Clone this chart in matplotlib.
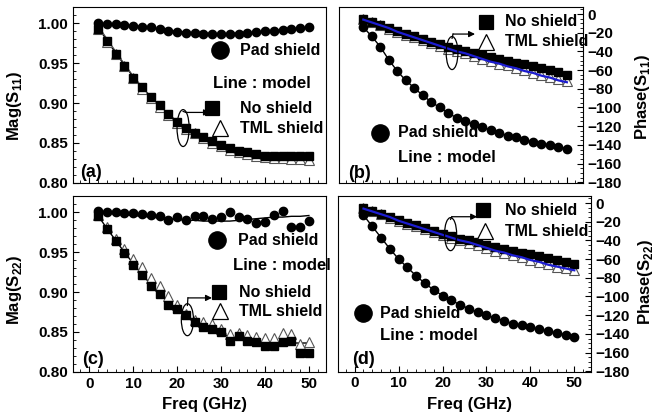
import matplotlib
matplotlib.use("Agg")
import matplotlib.pyplot as plt
from matplotlib.patches import Ellipse
from matplotlib.ticker import MultipleLocator, FormatStrFormatter

plt.rcParams['font.family'] = ['Liberation Sans', 'DejaVu Sans']
plt.rcParams['font.weight'] = 'bold'
plt.rcParams['mathtext.fontset'] = 'custom'
plt.rcParams['mathtext.rm'] = 'Liberation Sans:bold'
plt.rcParams['mathtext.bf'] = 'Liberation Sans:bold'

freq = [2, 4, 6, 8, 10, 12, 14, 16, 18, 20, 22, 24, 26, 28, 30,
        32, 34, 36, 38, 40, 42, 44, 46, 48, 50]

# (a) Mag(S11)
mag11_pad = [1.000, 0.999, 0.999, 0.998, 0.997, 0.996, 0.995, 0.993, 0.991, 0.989, 0.988, 0.988, 0.987,
             0.987, 0.987, 0.987, 0.987, 0.988, 0.989, 0.990, 0.991, 0.992, 0.993, 0.994, 0.995]
mag11_no = [0.993, 0.978, 0.962, 0.947, 0.932, 0.920, 0.907, 0.897, 0.886, 0.876, 0.869, 0.863, 0.857,
            0.852, 0.847, 0.843, 0.840, 0.838, 0.836, 0.834, 0.834, 0.834, 0.833, 0.833, 0.833]
mag11_tml = [0.993, 0.977, 0.961, 0.946, 0.931, 0.918, 0.906, 0.895, 0.885, 0.875, 0.868, 0.862, 0.856,
             0.850, 0.846, 0.841, 0.838, 0.836, 0.834, 0.832, 0.831, 0.831, 0.830, 0.830, 0.829]
mag11_pad_model = [1.000, 0.9995, 0.999, 0.998, 0.997, 0.996, 0.994, 0.993, 0.991, 0.990, 0.989, 0.988, 0.988,
                   0.987, 0.987, 0.987, 0.988, 0.988, 0.989, 0.990, 0.991, 0.992, 0.993, 0.994, 0.995]
mag11_no_model = [0.995, 0.979, 0.963, 0.948, 0.933, 0.920, 0.908, 0.897, 0.886, 0.877, 0.869, 0.862, 0.856,
                  0.851, 0.847, 0.843, 0.840, 0.838, 0.836, 0.835, 0.834, 0.833, 0.833, 0.832, 0.832]
mag11_tml_model = [0.997, 0.981, 0.965, 0.949, 0.934, 0.920, 0.907, 0.896, 0.885, 0.875, 0.867, 0.860, 0.854,
                   0.849, 0.845, 0.841, 0.838, 0.836, 0.834, 0.833, 0.832, 0.831, 0.830, 0.830, 0.829]

# (b) Phase(S11)
ph11_pad = [-14, -24, -35, -49, -61, -71, -79, -87, -94, -100, -106, -111, -115,
            -118, -121, -124, -127, -130, -132, -135, -137, -139, -140, -142, -144]
ph11_no = [-5, -9, -12, -15, -18, -21, -24, -27, -30, -32, -35, -37, -40,
           -42, -44, -46, -48, -50, -52, -54, -56, -58, -60, -62, -65]
ph11_tml = [-5, -9, -12, -16, -19, -22, -25, -28, -31, -34, -37, -40, -42,
            -45, -48, -50, -53, -55, -58, -60, -63, -65, -67, -70, -72]
ph11_no_model = [-5, -9, -12, -15, -18, -21, -24, -27, -30, -32, -35, -37, -40,
                 -42, -44, -46, -48, -50, -52, -54, -56, -58, -60, -62, -64]
ph11_tml_model = [-6, -9, -12, -15, -19, -22, -25, -28, -31, -34, -37, -40, -42,
                  -45, -48, -51, -53, -56, -58, -61, -63, -66, -68, -71, -73]

# (c) Mag(S22)
mag22_pad = [1.002, 1.000, 1.000, 0.999, 0.999, 0.998, 0.997, 0.995, 0.991, 0.994, 0.990, 0.995, 0.996,
             0.992, 0.994, 1.001, 0.994, 0.992, 0.987, 0.988, 0.997, 1.002, 0.981, 0.981, 0.989]
mag22_no = [0.995, 0.979, 0.964, 0.949, 0.934, 0.921, 0.908, 0.897, 0.884, 0.879, 0.871, 0.863, 0.856,
            0.854, 0.850, 0.839, 0.845, 0.839, 0.837, 0.832, 0.832, 0.837, 0.839, 0.823, 0.824]
mag22_tml = [0.997, 0.981, 0.967, 0.954, 0.942, 0.931, 0.918, 0.907, 0.895, 0.884, 0.873, 0.865, 0.862,
             0.860, 0.854, 0.847, 0.848, 0.846, 0.844, 0.842, 0.842, 0.849, 0.847, 0.835, 0.837]
mag22_pad_model = [1.000, 0.999, 0.998, 0.997, 0.996, 0.995, 0.994, 0.993, 0.992, 0.991, 0.990, 0.990, 0.989,
                   0.989, 0.989, 0.989, 0.990, 0.991, 0.992, 0.993, 0.994, 0.994, 0.995, 0.995, 0.996]
mag22_model = [0.996, 0.980, 0.965, 0.950, 0.936, 0.922, 0.910, 0.898, 0.887, 0.878, 0.869, 0.862, 0.856,
               0.851, 0.847, 0.844, 0.841, 0.839, 0.838, 0.837, 0.836, 0.836, 0.836, 0.836, 0.836]

# (d) Phase(S22)
ph22_pad = [-13, -25, -37, -49, -60, -69, -78, -86, -93, -99, -104, -109, -113,
            -117, -120, -123, -126, -129, -131, -133, -135, -137, -139, -141, -143]
ph22_no = [-5, -9, -12, -15, -18, -21, -24, -27, -30, -33, -35, -38, -40,
           -42, -45, -47, -49, -51, -53, -55, -57, -59, -61, -63, -65]
ph22_tml = [-5, -9, -12, -16, -19, -22, -25, -28, -31, -34, -37, -40, -43,
            -45, -48, -51, -53, -56, -58, -61, -63, -65, -68, -70, -72]
ph22_no_model = [-5, -9, -12, -15, -18, -21, -24, -27, -30, -33, -35, -38, -40,
                 -42, -45, -47, -49, -51, -53, -55, -57, -59, -61, -63, -65]
ph22_tml_model = [-6, -9, -12, -15, -19, -22, -25, -28, -31, -34, -37, -40, -42,
                  -45, -48, -51, -53, -56, -58, -61, -63, -66, -68, -70, -72]

W, H = 656, 416
fig = plt.figure(figsize=(W / 100, H / 100), dpi=100)


def px_axes(left, top, right, bottom):
    return fig.add_axes([left / W, 1 - bottom / H, (right - left) / W, (bottom - top) / H])


ax_a = px_axes(72.5, 7, 325.6, 182.7)
ax_b = px_axes(338.7, 7, 583, 182.7)
ax_c = px_axes(72.5, 196, 325.6, 371.7)
ax_d = px_axes(338, 196, 591, 371.7)

FS = 11
LFS = 11.5
ms = 5.5


def data_points(ax, pad, no, tml):
    ax.plot(freq, tml, ls='none', marker='^', ms=ms + 1, mfc='white', mec='#555555', mew=0.8, zorder=3)
    ax.plot(freq, no, ls='none', marker='s', ms=ms, color='black', zorder=4)
    ax.plot(freq, pad, ls='none', marker='o', ms=ms + 0.5, color='black', zorder=4)


def style_axis(ax, side):
    ax.set_xlim(-3.8, 53.8)
    ax.xaxis.set_major_locator(MultipleLocator(10))
    ax.xaxis.set_minor_locator(MultipleLocator(2))
    ax.tick_params(which='both', direction='in', top=False, labelsize=FS)
    ax.tick_params(which='major', length=4, width=0.8)
    ax.tick_params(which='minor', length=2, width=0.6)
    if side == 'left':
        ax.tick_params(which='both', left=True, right=False)
    else:
        ax.tick_params(which='both', left=False, right=True, labelleft=False, labelright=True, pad=3)
    for lab in ax.get_xticklabels() + ax.get_yticklabels():
        lab.set_fontweight('bold')


def legend_block(ax, items, line_pos):
    for marker, mx, my, tx, label, size in items:
        ax.plot([mx], [my], transform=ax.transAxes, marker=marker, ms=size,
                mfc='white' if marker == '^' else 'black', mec='black', mew=0.9,
                ls='none', clip_on=False, zorder=5)
        ax.text(tx, my, label, transform=ax.transAxes, fontsize=LFS, fontweight='bold',
                va='center', ha='left')
    ax.text(line_pos[0], line_pos[1], 'Line : model', transform=ax.transAxes,
            fontsize=12, fontweight='bold', va='center', ha='left')


def bracket(ax, cx, cy, h, x0, x1, ya):
    ax.add_patch(Ellipse((cx, cy), 0.048, h, transform=ax.transAxes, fill=False,
                         ec='black', lw=0.9, zorder=5))
    ax.annotate('', xy=(x1, ya), xytext=(x0, ya), xycoords='axes fraction',
                arrowprops=dict(arrowstyle='-|>', color='black', lw=0.9,
                                mutation_scale=9, shrinkA=0, shrinkB=0))
    ax.plot([cx, x0], [cy + h / 2 - 0.01, ya], transform=ax.transAxes, color='black', lw=0.9)


# (a)
ax_a.plot(freq, mag11_pad_model, color='black', lw=1)
ax_a.plot(freq, mag11_no_model, color='black', lw=1)
ax_a.plot(freq, mag11_tml_model, color='#444444', lw=0.8)
data_points(ax_a, mag11_pad, mag11_no, mag11_tml)
ax_a.set_ylim(0.80, 1.0205)
ax_a.yaxis.set_major_locator(MultipleLocator(0.05))
ax_a.yaxis.set_minor_locator(MultipleLocator(0.01))
ax_a.yaxis.set_major_formatter(FormatStrFormatter('%.2f'))
style_axis(ax_a, 'left')
ax_a.tick_params(labelbottom=False)
ax_a.set_ylabel(r'Mag(S$_{11}$)', fontsize=12, fontweight='bold')
ax_a.yaxis.set_label_coords(-0.19, 0.44)
legend_block(ax_a, [('o', 0.583, 0.755, 0.662, 'Pad shield', 12.5),
                    ('s', 0.551, 0.425, 0.662, 'No shield', 9.5),
                    ('^', 0.583, 0.311, 0.662, 'TML shield', 11)], (0.555, 0.567))
bracket(ax_a, 0.437, 0.311, 0.21, 0.448, 0.543, 0.4)
ax_a.text(0.03, 0.06, '(a)', transform=ax_a.transAxes, fontsize=FS + 2, fontweight='bold', va='center')

# (b)
ax_b.plot(freq, ph11_pad, color='black', lw=1)
ax_b.plot(freq, ph11_no_model, color='black', lw=1)
data_points(ax_b, ph11_pad, ph11_no, ph11_tml)
ax_b.plot(freq, ph11_tml_model, color='#1c1cd0', lw=1.6, zorder=4.5)
ax_b.set_ylim(-180.5, 7.5)
ax_b.yaxis.set_major_locator(MultipleLocator(20))
ax_b.yaxis.set_minor_locator(MultipleLocator(5))
style_axis(ax_b, 'right')
ax_b.tick_params(labelbottom=False)
ax_b.yaxis.set_label_position('right')
ax_b.set_ylabel(r'Phase(S$_{11}$)', fontsize=12, fontweight='bold', rotation=90)
ax_b.yaxis.set_label_coords(1.205, 0.49)
legend_block(ax_b, [('s', 0.603, 0.915, 0.681, 'No shield', 9.5),
                    ('^', 0.603, 0.801, 0.681, 'TML shield', 11),
                    ('o', 0.169, 0.283, 0.243, 'Pad shield', 12.5)], (0.243, 0.146))
bracket(ax_b, 0.464, 0.738, 0.188, 0.468, 0.558, 0.846)
ax_b.text(0.038, 0.05, '(b)', transform=ax_b.transAxes, fontsize=FS + 2, fontweight='bold', va='center')

# (c)
ax_c.plot(freq, mag22_pad_model, color='black', lw=1)
ax_c.plot(freq, mag22_model, color='black', lw=1)
data_points(ax_c, mag22_pad, mag22_no, mag22_tml)
ax_c.set_ylim(0.80, 1.0205)
ax_c.yaxis.set_major_locator(MultipleLocator(0.05))
ax_c.yaxis.set_minor_locator(MultipleLocator(0.01))
ax_c.yaxis.set_major_formatter(FormatStrFormatter('%.2f'))
style_axis(ax_c, 'left')
ax_c.set_ylabel(r'Mag(S$_{22}$)', fontsize=12, fontweight='bold')
ax_c.yaxis.set_label_coords(-0.19, 0.465)
ax_c.set_xlabel('Freq (GHz)', fontsize=12, fontweight='bold')
ax_c.xaxis.set_label_coords(0.52, -0.145)
legend_block(ax_c, [('o', 0.570, 0.748, 0.654, 'Pad shield', 12.5),
                    ('s', 0.580, 0.452, 0.658, 'No shield', 9.5),
                    ('^', 0.583, 0.344, 0.658, 'TML shield', 11)], (0.634, 0.602))
bracket(ax_c, 0.454, 0.296, 0.182, 0.456, 0.551, 0.42)
ax_c.text(0.04, 0.07, '(c)', transform=ax_c.transAxes, fontsize=FS + 2, fontweight='bold', va='center')

# (d)
ax_d.plot(freq, ph22_pad, color='black', lw=1)
ax_d.plot(freq, ph22_no_model, color='black', lw=1)
data_points(ax_d, ph22_pad, ph22_no, ph22_tml)
ax_d.plot(freq, ph22_tml_model, color='#1c1cd0', lw=1.6, zorder=4.5)
ax_d.set_ylim(-180.5, 7.5)
ax_d.yaxis.set_major_locator(MultipleLocator(20))
ax_d.yaxis.set_minor_locator(MultipleLocator(5))
style_axis(ax_d, 'right')
ax_d.yaxis.set_label_position('right')
ax_d.set_ylabel(r'Phase(S$_{22}$)', fontsize=12, fontweight='bold', rotation=90)
ax_d.yaxis.set_label_coords(1.178, 0.51)
ax_d.set_xlabel('Freq (GHz)', fontsize=12, fontweight='bold')
ax_d.xaxis.set_label_coords(0.52, -0.145)
legend_block(ax_d, [('s', 0.574, 0.92, 0.66, 'No shield', 9.5),
                    ('^', 0.581, 0.80, 0.66, 'TML shield', 11),
                    ('o', 0.10, 0.332, 0.166, 'Pad shield', 12.5)], (0.166, 0.205))
bracket(ax_d, 0.445, 0.783, 0.188, 0.45, 0.55, 0.882)
ax_d.text(0.055, 0.07, '(d)', transform=ax_d.transAxes, fontsize=FS + 2, fontweight='bold', va='center')

fig.savefig('out.png', dpi=100)
